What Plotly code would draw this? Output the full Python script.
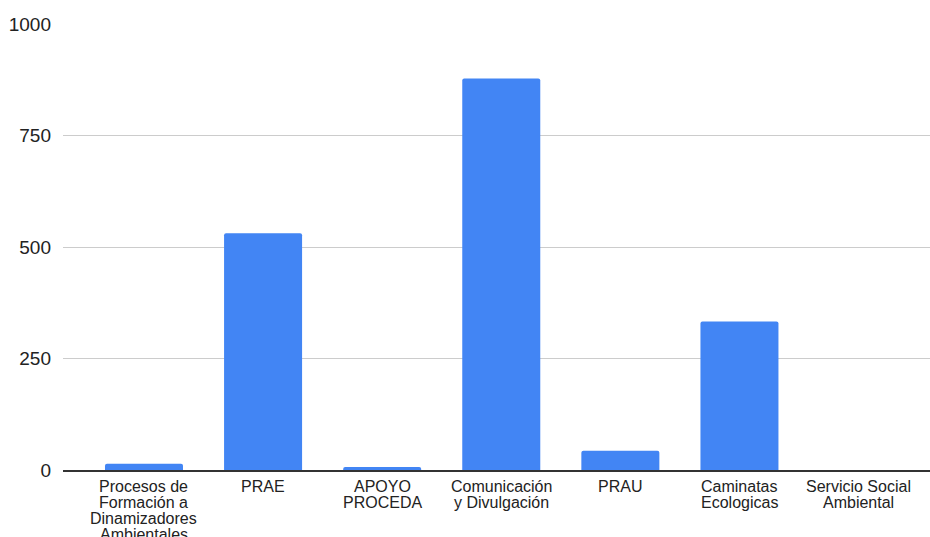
import plotly.graph_objects as go

categories = [
    "Procesos de Formación a Dinamizadores Ambientales",
    "PRAE",
    "APOYO PROCEDA",
    "Comunicación y Divulgación",
    "PRAU",
    "Caminatas Ecologicas",
    "Servicio Social Ambiental",
]
label_lines = [
    ["Procesos de", "Formación a", "Dinamizadores", "Ambientales"],
    ["PRAE"],
    ["APOYO", "PROCEDA"],
    ["Comunicación", "y Divulgación"],
    ["PRAU"],
    ["Caminatas", "Ecologicas"],
    ["Servicio Social", "Ambiental"],
]
values = [14, 531, 7, 878, 43, 333, 0]
y_ticks = [0, 250, 500, 750, 1000]

fig = go.Figure(go.Bar(
    x=categories, y=values,
    marker=dict(color="#4285F4", cornerradius=2, line=dict(width=0)),
    hoverinfo="x+y",
))

LINE_H = 16
for cat, lines in zip(categories, label_lines):
    for i, txt in enumerate(lines):
        fig.add_annotation(
            x=cat, y=0, xref="x", yref="paper",
            text=txt, showarrow=False,
            xanchor="center", yanchor="middle",
            yshift=-(LINE_H + LINE_H * i),
            font=dict(family="Liberation Sans, Arial, sans-serif", size=16, color="#222222"),
        )

fig.update_layout(
    width=930, height=537,
    margin=dict(l=63, r=0, t=24, b=67, autoexpand=False),
    paper_bgcolor="white", plot_bgcolor="white",
    bargap=0.345,
    showlegend=False,
    font=dict(family="Liberation Sans, Arial, sans-serif", size=16, color="#222222"),
)
fig.update_xaxes(
    type="category",
    range=[-0.68, 6.6],
    showgrid=False,
    showline=True, linecolor="#333333", linewidth=1.5,
    ticks="", showticklabels=False,
)
fig.update_yaxes(
    range=[0, 1000],
    tickvals=y_ticks,
    ticktext=[str(v) for v in y_ticks],
    showgrid=True, gridcolor="#cccccc", gridwidth=1,
    zeroline=False, showline=False,
    ticks="", ticklabelstandoff=11,
    tickfont=dict(size=19, color="#222222"),
)

fig.write_html(
    "out.html",
    config={"displayModeBar": False},
    post_script="document.body.style.margin='0';document.body.style.overflow='hidden';",
)
